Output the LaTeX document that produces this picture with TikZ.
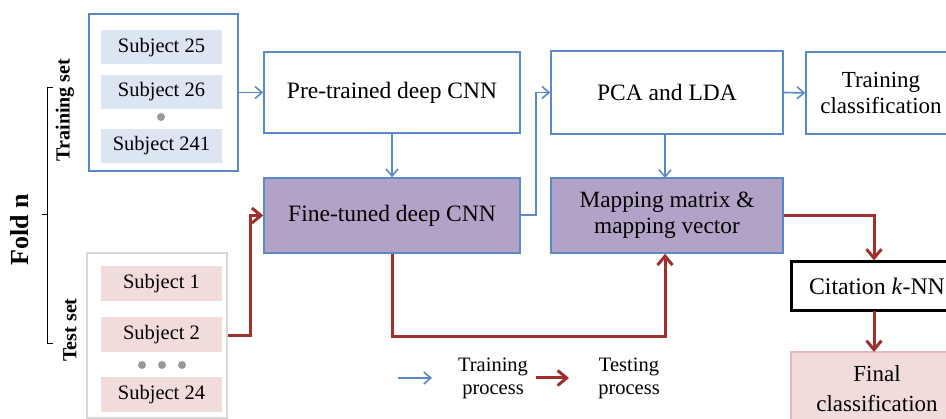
\documentclass[tikz,border=0pt]{standalone}
\usepackage{fontspec}
\setmainfont{Liberation Serif}
\usetikzlibrary{arrows.meta}
\definecolor{bluel}{HTML}{5A8AC6}
\definecolor{redl}{HTML}{A0302E}
\definecolor{bluebar}{HTML}{DCE6F2}
\definecolor{pinkbar}{HTML}{F2DCDB}
\definecolor{purp}{HTML}{B3A2C7}
\definecolor{pinkedge}{HTML}{E6B9B8}
\definecolor{grayedge}{HTML}{D9D9D9}
\tikzset{
  box/.style={draw=bluel, line width=1.5pt, fill=white, inner sep=0pt, align=center, font=\fontsize{23.5}{27}\selectfont},
  purpbox/.style={box, fill=purp},
  bar/.style={fill=#1, inner sep=0pt, minimum width=121pt, font=\fontsize{20.5}{24}\selectfont},
  dotn/.style={circle, fill=gray!80, inner sep=0pt, minimum size=8pt},
  barr/.style={draw=bluel, line width=1.6pt, -{Straight Barb[length=7pt,width=12pt,line width=1.6pt]}},
  rarr/.style={draw=redl, line width=3pt, -{Straight Barb[length=9pt,width=15pt,line width=3pt]}},
  side/.style={font=\bfseries\fontsize{20}{24}\selectfont, rotate=90},
  legend/.style={align=center, font=\fontsize{20.5}{23}\selectfont}
}
\begin{document}
\begin{tikzpicture}[x=1pt,y=-1pt]
\useasboundingbox (0,0) rectangle (946,419);
\clip (0,0) rectangle (946,419);
% training set
\node[draw=bluel, line width=1.3pt, minimum width=149pt, minimum height=157pt, inner sep=0pt] (train) at (163.5,92.5) {};
\node[bar=bluebar, minimum height=34pt] (s25) at (161.5,47.5) {Subject 25};
\node[bar=bluebar, minimum height=34pt] (s26) at (161.5,92) {Subject 26};
\node[dotn] (tdot) at (161,117) {};
\node[bar=bluebar, minimum height=34pt] (s241) at (161.5,146) {Subject 241};
% test set
\node[draw=grayedge, line width=1.3pt, minimum width=140pt, minimum height=165pt, inner sep=0pt] (test) at (157,335.5) {};
\node[bar=pinkbar, minimum height=35pt] (s1) at (161.5,283.5) {Subject 1};
\node[bar=pinkbar, minimum height=35pt] (s2) at (161.5,334.5) {Subject 2};
\node[dotn] (d1) at (142,365) {};
\node[dotn] (d2) at (162,365) {};
\node[dotn] (d3) at (182,365) {};
\node[bar=pinkbar, minimum height=35pt] (s24) at (161.5,394.5) {Subject 24};
% labels
\node[side] (lt) at (65,110) {Training set};
\node[side] (ls) at (70,330) {Test set};
\node[side, font=\bfseries\fontsize{26}{30}\selectfont] (fold) at (20,230) {Fold n};
\draw[black, line width=1pt] (53,88) -- (47,88) -- (47,344) -- (53,344);
\draw[black, line width=1pt] (47,215) -- (42,215);
% main boxes
\node[box, minimum width=256pt, minimum height=81pt] (pre) at (392,92.5) {Pre-trained deep CNN};
\node[purpbox, minimum width=256pt, minimum height=75pt] (fine) at (392,215.5) {Fine-tuned deep CNN};
\node[box, minimum width=232pt, minimum height=83pt] (pca) at (667,92.5) {PCA and LDA};
\node[purpbox, minimum width=232pt, minimum height=75pt, font=\fontsize{23.3}{26}\selectfont] (map) at (667,215.5) {Mapping matrix \&\\mapping vector};
\node[box, minimum width=150pt, minimum height=82pt, font=\fontsize{23}{25.5}\selectfont] (tc) at (881,93) {Training\\classification};
\node[draw=black, line width=3pt, fill=white, minimum width=172pt, minimum height=49pt, inner sep=0pt, font=\fontsize{23.8}{27}\selectfont] (cit) at (877,286.5) {Citation \textit{k}-NN};
\node[draw=pinkedge, line width=1.3pt, fill=pinkbar, minimum width=172pt, minimum height=74pt, inner sep=0pt, align=center, font=\fontsize{23}{30}\selectfont] (fin) at (877,389) {Final\\classification};
% training arrows
\draw[barr] (train.east |- pre.west) -- (pre.west);
\draw[barr] (pre.south) -- (fine.north);
\coordinate (j1) at (536,215);
\draw[barr] (fine.east |- j1) -- (j1) |- (pca.west);
\draw[barr] (pca.east) -- (tc.west);
\draw[barr] (665,134) -- (665,178);
% testing arrows
\coordinate (j2) at (250,336);
\draw[rarr] (test.east |- j2) -- (j2) |- (fine.west);
\coordinate (j3) at (392,337);
\coordinate (j4) at (665,337);
\draw[rarr] (fine.south) -- (j3) -- (j4) -- (j4 |- map.south);
\coordinate (j5) at (874,216);
\draw[rarr] (map.east |- j5) -- (j5) -- (j5 |- cit.north);
\draw[rarr] (874,311) -- (874,352);
% legend
\coordinate (lb1) at (398,378);
\coordinate (lb2) at (432,378);
\draw[barr] (lb1) -- (lb2);
\node[legend] (ltr) at (493,378) {Training\\process};
\coordinate (lr1) at (536,378);
\coordinate (lr2) at (569,378);
\draw[rarr] (lr1) -- (lr2);
\node[legend] (lte) at (629,378) {Testing\\process};
\end{tikzpicture}
\end{document}
